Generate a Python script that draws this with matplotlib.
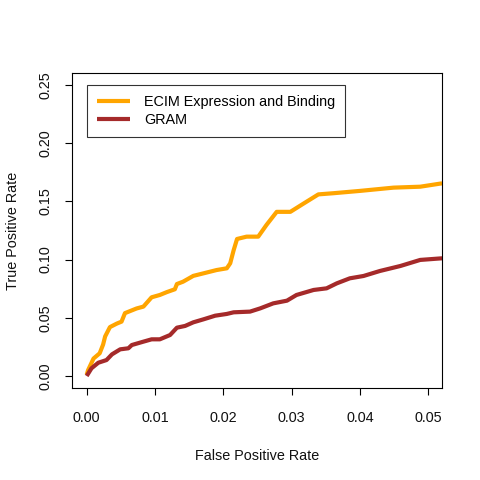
import matplotlib
matplotlib.use("Agg")
import matplotlib.pyplot as plt

plt.rcParams["font.family"] = ["Liberation Sans", "DejaVu Sans"]

# ROC curves (false positive rate vs true positive rate)
ecim_fpr = [0.0, 0.0002, 0.0010, 0.0019, 0.0024, 0.0027, 0.0034, 0.0044, 0.0051,
            0.0056, 0.0073, 0.0083, 0.0095, 0.0107, 0.0117, 0.0129, 0.0132, 0.0141,
            0.0156, 0.0171, 0.0190, 0.0205, 0.0210, 0.0215, 0.0220, 0.0234, 0.0251,
            0.0263, 0.0278, 0.0298, 0.0317, 0.0339, 0.0361, 0.0400, 0.0449, 0.0488,
            0.0520]
ecim_tpr = [0.001, 0.005, 0.015, 0.0195, 0.027, 0.034, 0.042, 0.045, 0.0467,
            0.054, 0.058, 0.0596, 0.0676, 0.0696, 0.072, 0.0745, 0.079, 0.081,
            0.086, 0.0882, 0.091, 0.0925, 0.0968, 0.108, 0.1177, 0.1197, 0.1197,
            0.1297, 0.141, 0.141, 0.148, 0.156, 0.157, 0.159, 0.1618, 0.1626,
            0.1655]

gram_fpr = [0.0, 0.0007, 0.0017, 0.0029, 0.0037, 0.0049, 0.0061, 0.0066, 0.0083,
            0.0095, 0.0107, 0.0122, 0.0132, 0.0144, 0.0156, 0.0171, 0.0188, 0.0205,
            0.0215, 0.0239, 0.0254, 0.0273, 0.0293, 0.0307, 0.0332, 0.0351, 0.0366,
            0.0385, 0.0405, 0.0429, 0.0459, 0.0488, 0.0520]
gram_tpr = [0.0, 0.0066, 0.0114, 0.0137, 0.0186, 0.0229, 0.0238, 0.0266, 0.0295,
            0.0315, 0.0315, 0.0352, 0.0415, 0.043, 0.0461, 0.0487, 0.0518, 0.0533,
            0.0547, 0.0553, 0.0581, 0.0624, 0.0647, 0.0696, 0.0739, 0.0753, 0.0796,
            0.0839, 0.0859, 0.0902, 0.0945, 0.0997, 0.1011]

x_ticks = [0.00, 0.01, 0.02, 0.03, 0.04, 0.05]
y_ticks = [0.00, 0.05, 0.10, 0.15, 0.20, 0.25]

FS = 10.4

fig = plt.figure(figsize=(4.8, 4.8), dpi=100)
ax = fig.add_axes([0.15, 0.1917, 0.771, 0.6563])

ax.plot(ecim_fpr, ecim_tpr, color="#FFA500", lw=3, solid_capstyle="butt",
        label="ECIM Expression and Binding")
ax.plot(gram_fpr, gram_tpr, color="#A52A2A", lw=3, solid_capstyle="butt",
        label="GRAM")

ax.set_xlim(-0.00215, 0.0520)
ax.set_ylim(-0.0103, 0.2603)
ax.set_xticks(x_ticks)
ax.set_xticklabels([f"{v:.2f}" for v in x_ticks])
ax.set_yticks(y_ticks)
ax.set_yticklabels([f"{v:.2f}" for v in y_ticks], rotation=90, va="center")

for s in ax.spines.values():
    s.set_linewidth(0.8)
ax.tick_params(direction="out", length=5, width=0.8, labelsize=FS,
               labelcolor="#111111")
ax.tick_params(axis="x", pad=11.5)
ax.tick_params(axis="y", pad=9)

ax.set_xlabel("False Positive Rate", fontsize=FS, labelpad=17, color="#111111")
ax.set_ylabel("True Positive Rate", fontsize=FS, labelpad=13, color="#111111")

leg = ax.legend(loc="upper left", bbox_to_anchor=(0.04, 0.962), fontsize=FS,
                frameon=True, fancybox=False, handlelength=2.3,
                handletextpad=0.95, borderpad=0.7, labelspacing=0.25,
                borderaxespad=0)
leg.get_frame().set_edgecolor("black")
leg.get_frame().set_linewidth(0.8)

fig.savefig("out.png", dpi=100)
